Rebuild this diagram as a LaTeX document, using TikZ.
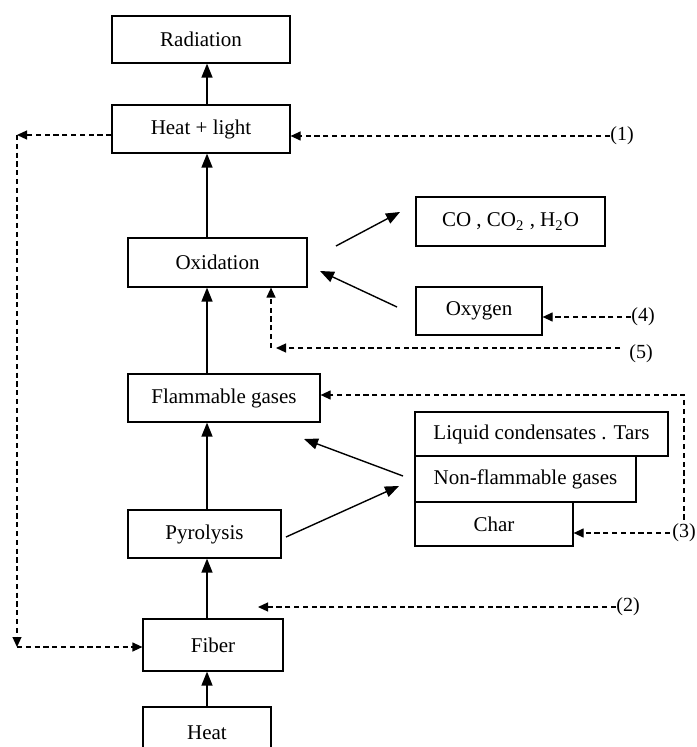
\documentclass[tikz,border=0pt]{standalone}
\usepackage{fontspec}
\setmainfont{Liberation Serif}
\usetikzlibrary{arrows.meta}

\begin{document}
\begin{tikzpicture}[x=0.5pt, y=-0.5pt,
        box/.style={draw, line width=0.6pt, inner sep=0pt, font=\fontsize{10.5}{12}\selectfont},
        flow/.style={line width=0.7pt, -{Triangle[length=7pt, width=5.5pt]}},
        feed/.style={line width=0.6pt, dash pattern=on 2.6pt off 1.8pt, -{Triangle[length=5pt, width=4.5pt]}},
        tag/.style={inner sep=0pt, font=\fontsize{10}{12}\selectfont}]
    \useasboundingbox (0, 0) rectangle (696, 747);
    \clip (0, 0) rectangle (696, 747);
    % Boxes
    \node [box, minimum width=89pt, minimum height=23.5pt] (rad) at (201, 39.5) {Radiation};
    \node [box, minimum width=89pt, minimum height=24pt] (hl) at (201, 129) {Heat + light};
    \node [box, minimum width=89.5pt, minimum height=24.5pt] (oxi) at (217.5, 262.5) {Oxidation};
    \node [box, minimum width=94.5pt, minimum height=24.5pt] (co) at (510.5, 221.5) {CO , CO\textsubscript{2} , H\textsubscript{2}O};
    \node [box, minimum width=63pt, minimum height=24pt] (oxy) at (479, 311) {Oxygen};
    \node [box, minimum width=96pt, minimum height=24pt] (fg) at (224, 398) {Flammable gases};
    \node [box, minimum width=126.5pt, minimum height=22pt] (liq) at (541.5, 434) {Liquid condensates . Tars};
    \node [box, minimum width=110.5pt, minimum height=23pt] (nfg) at (525.5, 479) {Non-flammable gases};
    \node [box, minimum width=79pt, minimum height=22pt] (char) at (494, 524) {Char};
    \node [box, minimum width=76.5pt, minimum height=24pt] (pyr) at (204.5, 534) {Pyrolysis};
    \node [box, minimum width=70pt, minimum height=26pt] (fib) at (213, 645) {Fiber};
    \node [box, minimum width=64pt, minimum height=26pt] (heat) at (207, 733) {Heat};
    % Labels
    \node [tag] (l1) at (622, 136) {(1)};
    \node [tag] (l2) at (628, 607) {(2)};
    \node [tag] (l3) at (684, 533) {(3)};
    \node [tag] (l4) at (643, 317) {(4)};
    \node [tag] (l5) at (641, 354) {(5)};
    % Points
    \coordinate (spine) at (207, 0);
    \coordinate (oxiout) at (336, 246);
    \coordinate (cotip) at (400, 212);
    \coordinate (oxyout) at (397, 307);
    \coordinate (oxitip) at (320, 271);
    \coordinate (pyrout) at (286, 537);
    \coordinate (stacktip) at (399, 486);
    \coordinate (stackout) at (403, 476);
    \coordinate (fgtip) at (304, 439);
    \coordinate (hlw) at (17, 135);
    \coordinate (fibw) at (17, 647);
    \coordinate (s5) at (620, 348);
    \coordinate (c5) at (271, 348);
    \coordinate (c3) at (684, 395);
    \coordinate (e2) at (258, 607);
    % Main chain
    \draw [flow] (hl.north -| spine) -- (rad.south -| spine);
    \draw [flow] (oxi.north -| spine) -- (hl.south -| spine);
    \draw [flow] (fg.north -| spine) -- (oxi.south -| spine);
    \draw [flow] (pyr.north -| spine) -- (fg.south -| spine);
    \draw [flow] (fib.north -| spine) -- (pyr.south -| spine);
    \draw [flow] (heat.north -| spine) -- (fib.south -| spine);
    % Side arrows
    \draw [flow] (oxiout) -- (cotip);
    \draw [flow] (oxyout) -- (oxitip);
    \draw [flow] (pyrout) -- (stacktip);
    \draw [flow] (stackout) -- (fgtip);
    % Dashed feedback
    \draw [feed] (l1.west) -- (l1.west -| hl.east);
    \draw [feed] (hl.west |- hlw) -- (hlw);
    \draw [feed] (hlw) -- (fibw);
    \draw [feed] (fibw) -- (fib.west |- fibw);
    \draw [feed] (l2.west) -- (e2);
    \draw [feed] ([xshift=-1pt]l3.west) -- (l3.west -| char.east);
    \draw [feed] ([yshift=2pt]l3.north -| c3) -- (c3) -- (c3 -| fg.east);
    \draw [feed] (l4.west) -- (l4.west -| oxy.east);
    \draw [feed] (s5) -- ([xshift=2.5pt]c5);
    \draw [feed] (c5) -- (c5 |- oxi.south);
\end{tikzpicture}
\end{document}
